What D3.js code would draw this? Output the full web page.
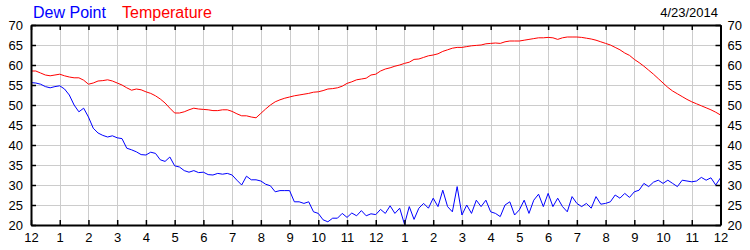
<!DOCTYPE html>
<html>
<head>
<meta charset="utf-8">
<script src="https://cdn.jsdelivr.net/npm/d3@7"></script>
<style>
  body { margin: 0; background: #fff; }
  svg { display: block; font-family: "Liberation Sans", Arial, sans-serif; }
</style>
</head>
<body>
<svg id="chart"></svg>
<script>
// hour labels along the bottom (midnight to midnight)
const hourLabels = ["12","1","2","3","4","5","6","7","8","9","10","11",
                    "12","1","2","3","4","5","6","7","8","9","10","11","12"];
const yTicks = [20, 25, 30, 35, 40, 45, 50, 55, 60, 65, 70];
const dateLabel = "4/23/2014";

// readings every 10 minutes, 00:00 .. 24:00
const temperature = [
  58.5, 58.5, 58.0, 57.5, 57.3, 57.5,
  57.7, 57.3, 57.0, 56.8, 56.8, 56.2,
  55.2, 55.5, 56.0, 56.1, 56.3, 56.0,
  55.5, 55.0, 54.3, 53.7, 54.0, 53.8,
  53.3, 52.9, 52.3, 51.5, 50.5, 49.2,
  48.0, 48.0, 48.3, 48.8, 49.2, 49.0,
  48.9, 48.8, 48.6, 48.6, 48.8, 48.8,
  48.4, 47.8, 47.3, 47.3, 47.0, 46.8,
  47.9, 49.0, 50.0, 50.8, 51.3, 51.7,
  52.0, 52.3, 52.5, 52.7, 52.9, 53.2,
  53.3, 53.6, 54.0, 54.1, 54.3, 54.7,
  55.4, 55.8, 56.3, 56.5, 56.7, 57.5,
  57.7, 58.5, 59.0, 59.3, 59.7, 60.0,
  60.4, 60.7, 61.4, 61.5, 61.9, 62.3,
  62.5, 62.8, 63.4, 63.8, 64.2, 64.4,
  64.4, 64.6, 64.8, 64.9, 65.0, 65.3,
  65.4, 65.5, 65.4, 65.8, 66.0, 66.0,
  66.0, 66.2, 66.4, 66.6, 66.8, 66.8,
  66.9, 66.8, 66.4, 66.8, 67.0, 67.0,
  67.0, 66.9, 66.7, 66.5, 66.2, 65.8,
  65.4, 65.0, 64.4, 63.8, 63.0, 62.4,
  61.4, 60.6, 59.7, 58.7, 57.7, 56.6,
  55.5, 54.4, 53.5, 52.8, 52.1, 51.4,
  50.8, 50.3, 49.8, 49.3, 48.8, 48.2,
  47.5
];

const dewPoint = [
  55.6, 55.5, 55.2, 54.6, 54.3, 54.6,
  54.8, 54.0, 52.5, 50.0, 48.3, 49.2,
  47.0, 44.2, 43.0, 42.4, 42.0, 42.3,
  41.8, 41.6, 39.2, 38.8, 38.3, 37.6,
  37.5, 38.2, 37.9, 36.3, 35.9, 37.0,
  34.8, 34.5, 33.6, 33.2, 33.6, 33.1,
  33.2, 32.6, 32.5, 32.9, 32.7, 32.9,
  32.5, 31.2, 30.0, 32.2, 31.3, 31.3,
  31.0, 30.2, 29.8, 28.3, 28.6, 28.6,
  28.6, 25.8, 25.8, 25.4, 25.8, 23.3,
  22.9, 21.3, 20.8, 21.7, 21.7, 22.9,
  21.9, 23.0, 22.3, 23.6, 22.3, 22.8,
  22.6, 23.9, 22.9, 24.8, 22.9, 24.2,
  20.2, 24.6, 21.4, 24.2, 25.4, 24.2,
  26.7, 24.6, 28.7, 24.6, 23.3, 29.6,
  22.5, 25.0, 22.9, 26.2, 24.6, 26.2,
  23.3, 22.9, 22.1, 25.0, 25.8, 22.5,
  23.8, 26.2, 22.9, 26.2, 27.7, 24.6,
  27.9, 24.6, 26.7, 24.6, 23.3, 27.1,
  25.4, 24.6, 25.4, 24.2, 27.1, 25.2,
  25.4, 25.8, 27.5, 26.7, 27.9, 26.9,
  28.3, 28.7, 30.4, 29.6, 30.7, 31.2,
  30.4, 31.2, 30.4, 29.6, 31.2, 31.0,
  30.8, 31.0, 31.9, 31.2, 31.8, 30.0,
  31.8
];

const w = 750, h = 250;
const plotL = 31, plotR = 720.5, plotT = 25, plotB = 225;

const svg = d3.select("#chart")
  .attr("width", w)
  .attr("height", h);

const xScale = d3.scaleLinear()
  .domain([0, 24])
  .range([plotL, plotR]);

const yScale = d3.scaleLinear()
  .domain([20, 70])
  .range([plotB, plotT]);

const hours = d3.range(0, 25);

// grid
svg.append("g")
  .selectAll("line")
  .data(hours.slice(1, -1))
  .enter().append("line")
  .attr("x1", d => Math.round(xScale(d)) + 0.5)
  .attr("x2", d => Math.round(xScale(d)) + 0.5)
  .attr("y1", plotT)
  .attr("y2", plotB)
  .attr("stroke", "#cccccc");

svg.append("g")
  .selectAll("line")
  .data(yTicks.slice(1, -1))
  .enter().append("line")
  .attr("x1", plotL)
  .attr("x2", plotR)
  .attr("y1", d => yScale(d) + 0.5)
  .attr("y2", d => yScale(d) + 0.5)
  .attr("stroke", "#cccccc");

// lines
const line = d3.line()
  .x((d, i) => xScale(i / 6))
  .y(d => yScale(d));

svg.append("path")
  .datum(temperature)
  .attr("d", line)
  .attr("fill", "none")
  .attr("stroke", "#ff0000")
  .attr("stroke-width", 1);

svg.append("path")
  .datum(dewPoint)
  .attr("d", line)
  .attr("fill", "none")
  .attr("stroke", "#0000ff")
  .attr("stroke-width", 1);

// axes (ticks point inward, frame drawn by domain paths)
const xBottom = d3.axisBottom(xScale)
  .tickValues(hours)
  .tickSizeInner(-5)
  .tickSizeOuter(0)
  .tickPadding(8)
  .tickFormat(d => hourLabels[d]);

svg.append("g")
  .attr("transform", `translate(0,${plotB})`)
  .call(xBottom);

const xTop = d3.axisTop(xScale)
  .tickValues(hours)
  .tickSizeInner(-5)
  .tickSizeOuter(0)
  .tickFormat("");

svg.append("g")
  .attr("transform", `translate(0,${plotT})`)
  .call(xTop);

const yLeft = d3.axisLeft(yScale)
  .tickValues(yTicks)
  .tickSizeInner(-5)
  .tickSizeOuter(0)
  .tickPadding(8);

svg.append("g")
  .attr("transform", `translate(${plotL},0)`)
  .call(yLeft);

const yRight = d3.axisRight(yScale)
  .tickValues(yTicks)
  .tickSizeInner(-5)
  .tickSizeOuter(0)
  .tickPadding(7);

svg.append("g")
  .attr("transform", `translate(${plotR},0)`)
  .call(yRight);

svg.selectAll(".domain")
  .attr("stroke", "#000")
  .attr("stroke-width", 2);

svg.selectAll(".tick line")
  .attr("stroke", "#000")
  .attr("stroke-width", 1.5);

svg.selectAll(".tick text")
  .attr("font-size", 13)
  .attr("font-family", "Liberation Sans, Arial, sans-serif")
  .attr("fill", "#000");

// legend + date
svg.append("text")
  .attr("x", 33)
  .attr("y", 18)
  .attr("font-size", 16)
  .attr("fill", "#0000ff")
  .text("Dew Point");

svg.append("text")
  .attr("x", 122)
  .attr("y", 18)
  .attr("font-size", 16)
  .attr("fill", "#ff0000")
  .text("Temperature");

svg.append("text")
  .attr("x", 718)
  .attr("y", 17)
  .attr("font-size", 13)
  .attr("text-anchor", "end")
  .attr("fill", "#000")
  .text(dateLabel);
</script>
</body>
</html>
